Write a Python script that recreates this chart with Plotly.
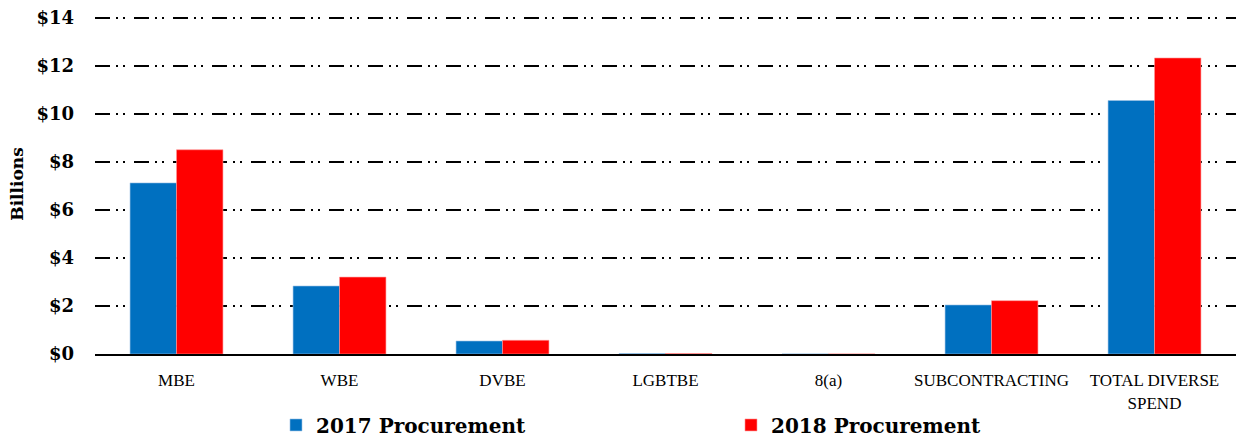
import plotly.graph_objects as go

categories = ["MBE", "WBE", "DVBE", "LGBTBE", "8(a)", "SUBCONTRACTING", "TOTAL DIVERSE<br>SPEND"]
spend_2017 = [7.12, 2.83, 0.54, 0.02, 0.005, 2.04, 10.55]
spend_2018 = [8.50, 3.20, 0.57, 0.02, 0.005, 2.22, 12.32]
tick_vals = [0, 2, 4, 6, 8, 10, 12, 14]
tick_text = ["$0", "$2", "$4", "$6", "$8", "$10", "$12", "$14"]

fig = go.Figure()
fig.add_trace(go.Bar(x=categories, y=spend_2017, name="2017 Procurement",
                     marker=dict(color="#0070C0", line=dict(color="#9DC3E6", width=0.6))))
fig.add_trace(go.Bar(x=categories, y=spend_2018, name="2018 Procurement",
                     marker=dict(color="#FF0000", line=dict(color="#FF9999", width=0.6))))

fig.update_layout(
    width=1236, height=439,
    margin=dict(l=95, r=0, t=14, b=85),
    plot_bgcolor="white", paper_bgcolor="white",
    barmode="group", bargap=0.43, bargroupgap=0,
    font=dict(family="DejaVu Serif", color="black"),
    legend=dict(orientation="h", xref="container", yref="container",
                x=0.2233, xanchor="left", y=0.032, yanchor="middle",
                bgcolor="rgba(0,0,0,0)",
                entrywidth=410, entrywidthmode="pixels", itemwidth=30,
                font=dict(family="DejaVu Serif", size=20, weight="bold")),
)
fig.update_xaxes(
    showline=True, linecolor="black", linewidth=2, ticks="",
    tickfont=dict(family="Liberation Serif", size=17),
    ticklabelstandoff=10, automargin=False,
)
fig.update_yaxes(
    range=[0, 14.15], tickvals=tick_vals, ticktext=tick_text,
    showgrid=True, gridcolor="black", gridwidth=2,
    griddash="15px,6px,2px,5px,2px,9px", zeroline=False,
    tickfont=dict(family="DejaVu Serif", size=18, weight="bold"),
    ticklabelstandoff=20, automargin=False,
    title=dict(text="Billions", font=dict(family="DejaVu Serif", size=17, weight="bold"), standoff=8),
)

fig.write_html("out.html", config={"displayModeBar": False},
               post_script="document.body.style.margin='0';")
